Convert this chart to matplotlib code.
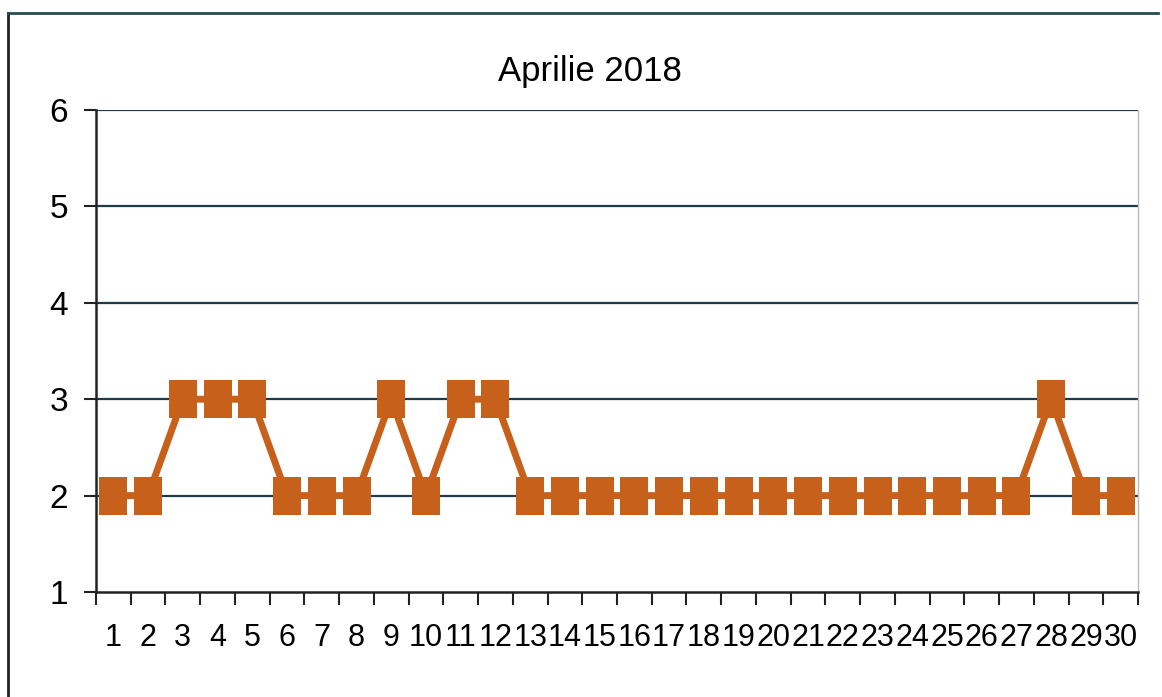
import matplotlib
matplotlib.use("Agg")
import matplotlib.pyplot as plt
from matplotlib.lines import Line2D

days = list(range(1, 31))
values = [2, 2, 3, 3, 3, 2, 2, 2, 3, 2, 3, 3, 2, 2, 2, 2, 2, 2, 2, 2,
          2, 2, 2, 2, 2, 2, 2, 3, 2, 2]
day_labels = [str(d) for d in days]
y_ticks = [1, 2, 3, 4, 5, 6]
title = "Aprilie 2018"

plt.rcParams['font.family'] = ['Liberation Sans', 'DejaVu Sans']

W, H = 1162, 697
fig = plt.figure(figsize=(W / 100, H / 100), dpi=100)
ax = fig.add_axes([96 / W, 1 - 592 / H, (1138 - 96) / W, (592 - 110) / H])

color = "#C6601A"
hw = 0.5 * 27 / 38
rect = [(-hw, -0.5), (hw, -0.5), (hw, 0.5), (-hw, 0.5), (-hw, -0.5)]
ax.plot(days, values, color=color, lw=5, marker=rect, markersize=27.5,
        markerfacecolor=color, markeredgecolor=color, markeredgewidth=0, zorder=3)

ax.set_xlim(0.5, 30.5)
ax.set_ylim(1, 6)
ax.set_yticks(y_ticks)
ax.set_yticklabels([str(v) for v in y_ticks], fontsize=24)
for v in y_ticks[1:]:
    ax.axhline(v, color="#1f3a4a", lw=1.6, zorder=1)

ax.set_xticks(days)
ax.set_xticklabels(day_labels, fontsize=22)
ax.tick_params(axis='x', which='major', length=0, pad=22)
ax.set_xticks([d + 0.5 for d in [0] + days], minor=True)
ax.tick_params(axis='x', which='minor', length=9, width=1.5, direction='out', color='#222222')
ax.tick_params(axis='y', length=9, width=1.5, direction='out', color='#222222', pad=11)

for s in ['left', 'bottom']:
    ax.spines[s].set_color('#222222')
    ax.spines[s].set_linewidth(1.8)
ax.spines['top'].set_visible(False)
ax.spines['right'].set_color('#bbbbbb')
ax.spines['right'].set_linewidth(1)

fig.text(590 / W, 1 - 72 / H, title, ha='center', va='center', fontsize=25)

# outer frame
fig.add_artist(Line2D([8 / W, 8 / W], [0, 1 - 13 / H], transform=fig.transFigure,
                      color='#222222', lw=2))
fig.add_artist(Line2D([8 / W, 1 - 4 / W], [1 - 13 / H, 1 - 13 / H], transform=fig.transFigure,
                      color='#2a4a55', lw=2))

fig.savefig("out.png", dpi=100)
